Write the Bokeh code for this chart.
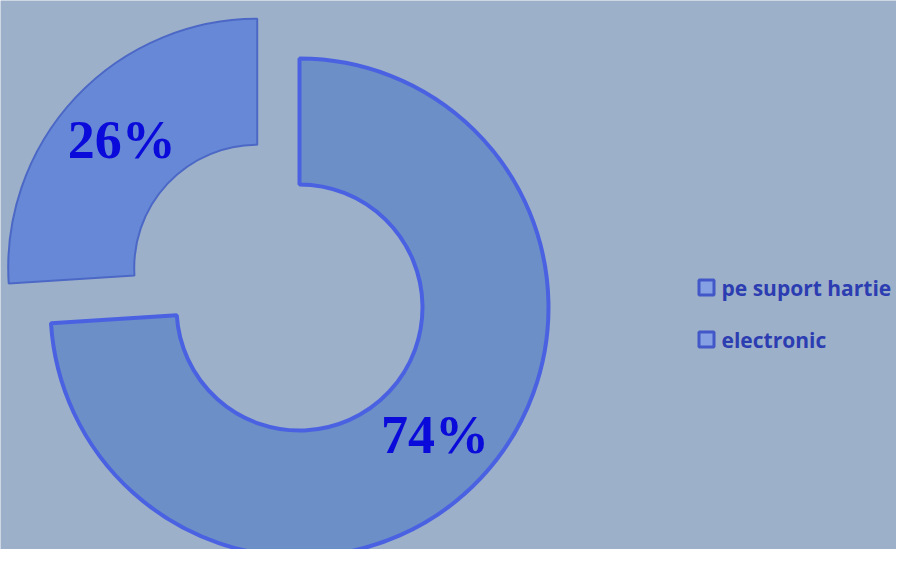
import math
from bokeh.plotting import figure
from bokeh.models import Range1d, ColumnDataSource
from bokeh.core.properties import value
from bokeh.embed import file_html
from bokeh.resources import INLINE

# ---- data ----
categories = ["pe suport hartie", "electronic"]
shares = [74, 26]
labels = ["74%", "26%"]
exploded = [False, True]

# ---- style / layout ----
BG = "#9db0c9"
fills = ["#6b8fc6", "#6788d6"]
edges = ["#4a62e2", "#4c68c6"]
edge_w = [4, 2]
IMG_H = 565
CX, CY = 299, IMG_H - 307      # pie centre (data units = pixels)
R_OUT, R_IN = 249, 123
EXPLODE = 58

W, H = 896, 549
p = figure(width=W, height=H, output_backend="svg", toolbar_location=None,
           x_range=Range1d(0, W), y_range=Range1d(IMG_H - H, IMG_H),
           min_border=0, background_fill_color=BG, border_fill_color=BG)
p.axis.visible = False
p.grid.visible = False
p.outline_line_color = None

total = float(sum(shares))
cum = 0.0
xs, ys, sa, ea, lx, ly = [], [], [], [], [], []
for s, ex in zip(shares, exploded):
    a0 = math.radians(90 - (cum + s) / total * 360)
    a1 = math.radians(90 - cum / total * 360)
    cum += s
    mid = (a0 + a1) / 2
    off = EXPLODE if ex else 0
    cx = CX + off * math.cos(mid)
    cy = CY + off * math.sin(mid)
    xs.append(cx); ys.append(cy); sa.append(a0); ea.append(a1)
    rm = (R_OUT + R_IN) / 2
    lx.append(cx + rm * math.cos(mid)); ly.append(cy + rm * math.sin(mid))

src = ColumnDataSource(dict(x=xs, y=ys, sa=sa, ea=ea, fill=fills, edge=edges,
                            lw=edge_w, lx=lx, ly=ly, lab=labels))
p.annular_wedge(x="x", y="y", inner_radius=R_IN, outer_radius=R_OUT,
                start_angle="sa", end_angle="ea", fill_color="fill",
                line_color="edge", line_width="lw", source=src)
p.text(x="lx", y="ly", text="lab", source=src, text_font=value("Liberation Serif"),
       text_font_style="bold", text_font_size="54px", text_color="#0a0ada",
       text_align="center", text_baseline="middle")

# legend (manual, square markers)
LEG_X, LEG_Y0, LEG_DY = 706, IMG_H - 287, 52
leg_src = ColumnDataSource(dict(
    x=[LEG_X] * len(categories),
    y=[LEG_Y0 - i * LEG_DY for i in range(len(categories))],
    tx=[LEG_X + 15] * len(categories),
    lab=categories))
p.scatter(x="x", y="y", marker="square", size=15, fill_color="#86a0e4",
          line_color="#4257c8", line_width=3, source=leg_src)
p.text(x="tx", y="y", text="lab", source=leg_src, text_font=value("Open Sans"),
       text_font_style="bold", text_font_size="21px", text_color="#2c3db2",
       text_align="left", text_baseline="middle")

open("out.html", "w").write(file_html(p, INLINE))
